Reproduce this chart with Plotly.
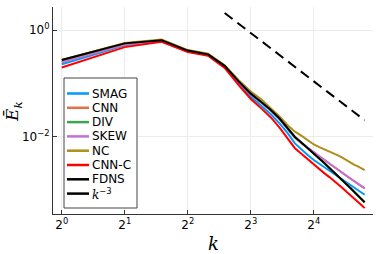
import plotly.graph_objects as go

k = list(range(1, 29))

# log10 of spectrum values
FDNS_log = [-0.56, -0.25, -0.19, -0.385, -0.455, -0.67, -0.96, -1.19, -1.35, -1.50,
            -1.66, -1.83, -2.00, -2.11, -2.21, -2.31, -2.40, -2.49, -2.58, -2.66,
            -2.74, -2.82, -2.89, -2.96, -3.03, -3.09, -3.16, -3.22]
NC_log = [-0.56, -0.245, -0.18, -0.375, -0.445, -0.66, -0.94, -1.15, -1.30, -1.46,
          -1.62, -1.78, -1.90, -1.98, -2.06, -2.14, -2.19, -2.23, -2.27, -2.31,
          -2.35, -2.39, -2.44, -2.48, -2.52, -2.55, -2.59, -2.62]
SKEW_log = [-0.60, -0.27, -0.20, -0.39, -0.46, -0.68, -0.97, -1.20, -1.36, -1.51,
            -1.67, -1.84, -2.01, -2.12, -2.20, -2.28, -2.36, -2.43, -2.50, -2.56,
            -2.62, -2.68, -2.73, -2.78, -2.83, -2.87, -2.92, -2.96]
CNN_log = [-0.60, -0.27, -0.20, -0.39, -0.46, -0.68, -0.97, -1.20, -1.36, -1.51,
           -1.67, -1.84, -2.01, -2.12, -2.20, -2.28, -2.36, -2.43, -2.50, -2.56,
           -2.62, -2.68, -2.73, -2.78, -2.83, -2.87, -2.92, -2.96]
DIV_log = [-0.56, -0.25, -0.19, -0.385, -0.455, -0.67, -0.96, -1.19, -1.35, -1.50,
           -1.66, -1.83, -2.00, -2.11, -2.21, -2.31, -2.40, -2.49, -2.58, -2.66,
           -2.74, -2.82, -2.89, -2.96, -3.03, -3.09, -3.16, -3.22]
SMAG_log = [-0.64, -0.285, -0.21, -0.40, -0.47, -0.69, -0.99, -1.25, -1.42, -1.58,
            -1.75, -1.93, -2.12, -2.24, -2.34, -2.43, -2.50, -2.57, -2.63, -2.69,
            -2.75, -2.80, -2.85, -2.90, -2.94, -2.99, -3.04, -3.08]
CNNC_log = [-0.70, -0.32, -0.22, -0.41, -0.48, -0.71, -1.03, -1.29, -1.47, -1.64,
            -1.83, -2.02, -2.21, -2.32, -2.42, -2.52, -2.60, -2.68, -2.75, -2.82,
            -2.89, -2.96, -3.03, -3.09, -3.15, -3.21, -3.27, -3.33]

ref_k = [6, 28]
ref_C = 450.0

x_tickvals = [1, 2, 4, 8, 16]
x_ticktext = ["2<sup>0</sup>", "2<sup>1</sup>", "2<sup>2</sup>", "2<sup>3</sup>", "2<sup>4</sup>"]
y_tickvals = [1, 0.01]
y_ticktext = ["10<sup>0</sup>", "10<sup>−2</sup>"]

series = [
    ("SMAG", SMAG_log, "#009AFA"),
    ("CNN", CNN_log, "#E36F47"),
    ("DIV", DIV_log, "#3EA44E"),
    ("SKEW", SKEW_log, "#C371D2"),
    ("NC", NC_log, "#AC8E18"),
    ("CNN-C", CNNC_log, "#FF0000"),
    ("FDNS", FDNS_log, "#000000"),
]
ref_name = '<span style="font-family:DejaVu Serif"><i>k</i></span><sup>−3</sup>'

W, H = 381, 254
L, R, T, B = 53, 8, 7, 40
pw, ph = W - L - R, H - T - B

def px_x(px):
    return (px - L) / pw

def px_y(py):
    return (H - B - py) / ph

fig = go.Figure()
for name, vals, col in series:
    fig.add_trace(go.Scatter(x=k, y=[10 ** v for v in vals], mode="lines", name=name,
                             line=dict(color=col, width=2), showlegend=False))
fig.add_trace(go.Scatter(x=ref_k, y=[ref_C * kk ** -3 for kk in ref_k], mode="lines",
                         name=ref_name, showlegend=False,
                         line=dict(color="black", width=2, dash="10px,6px")))

# custom legend box (compact entries as in the reference)
shapes = [dict(type="rect", xref="paper", yref="paper",
               x0=px_x(64), x1=px_x(137), y0=px_y(208), y1=px_y(78),
               line=dict(color="#444", width=1), fillcolor="white", layer="above")]
annotations = []
entries = [(n, c) for n, _, c in series] + [(ref_name, "black")]
y0 = 93.5
step = 14.3
for i, (name, col) in enumerate(entries):
    yy = y0 + i * step
    shapes.append(dict(type="line", xref="paper", yref="paper",
                       x0=px_x(67), x1=px_x(89), y0=px_y(yy), y1=px_y(yy),
                       line=dict(color=col, width=2.5), layer="above"))
    annotations.append(dict(xref="paper", yref="paper", x=px_x(90), y=px_y(yy),
                            xanchor="left", yanchor="middle", text=name, showarrow=False,
                            font=dict(family="DejaVu Sans", size=12, color="black")))

# axis titles
annotations.append(dict(xref="paper", yref="paper", x=px_x(213), y=px_y(243),
                        xanchor="center", yanchor="middle", text="<i>k</i>", showarrow=False,
                        font=dict(family="DejaVu Serif", size=18, color="black")))
annotations.append(dict(xref="paper", yref="paper", x=px_x(13), y=px_y(112),
                        xanchor="center", yanchor="middle", text="<i>Ē</i><sub><i>k</i></sub>",
                        showarrow=False, textangle=-90,
                        font=dict(family="DejaVu Serif", size=17, color="black")))

fig.update_layout(
    width=W, height=H,
    margin=dict(l=L, r=R, t=T, b=B, autoexpand=False),
    paper_bgcolor="white", plot_bgcolor="white",
    font=dict(family="DejaVu Sans", size=12, color="black"),
    showlegend=False,
    shapes=shapes, annotations=annotations,
    xaxis=dict(type="log", range=[-0.042, 1.487], tickvals=x_tickvals, ticktext=x_ticktext,
               showgrid=True, gridcolor="#ececec", gridwidth=1,
               showline=True, linecolor="#333", linewidth=1,
               ticks="inside", ticklen=4, tickcolor="#333", automargin=False,
               zeroline=False, tickfont=dict(size=12)),
    yaxis=dict(type="log", range=[-3.44, 0.43], tickvals=y_tickvals, ticktext=y_ticktext,
               showgrid=True, gridcolor="#ececec", gridwidth=1,
               showline=True, linecolor="#333", linewidth=1,
               ticks="inside", ticklen=4, tickcolor="#333", automargin=False,
               zeroline=False, tickfont=dict(size=12)),
)

fig.write_html("out.html", config={"displayModeBar": False},
               post_script="document.body.style.margin='0';document.body.style.overflow='hidden';")
